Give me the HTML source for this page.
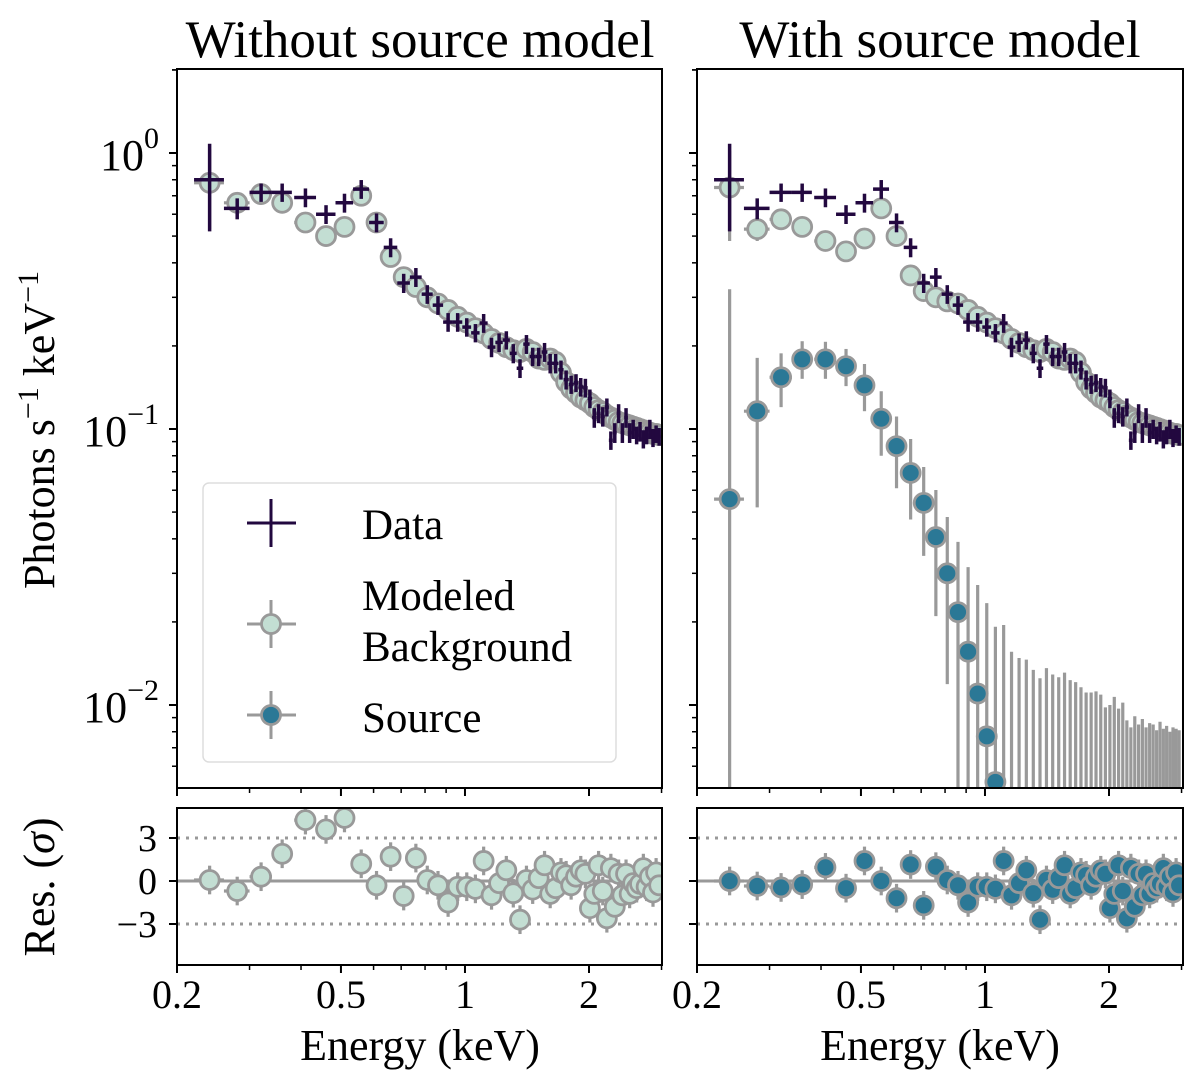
<!DOCTYPE html>
<html><head><meta charset="utf-8"><style>
html,body{margin:0;padding:0;background:#fff;width:1200px;height:1085px;overflow:hidden}
svg{display:block}
text{font-family:"Liberation Serif","DejaVu Serif",serif;fill:#000}
</style></head><body>
<svg id="chart" width="1200" height="1085" viewBox="0 0 1200 1085" xmlns="http://www.w3.org/2000/svg">
<defs>
<clipPath id="clipL"><rect x="177" y="69" width="485" height="719"/></clipPath>
<clipPath id="clipR"><rect x="697" y="69" width="486" height="719"/></clipPath>
<clipPath id="clipRL"><rect x="177" y="808" width="485" height="157"/></clipPath>
<clipPath id="clipRR"><rect x="697" y="808" width="486" height="157"/></clipPath>
</defs>
<text x="420" y="57" font-size="53" text-anchor="middle">Without source model</text>
<text x="940" y="57" font-size="53" text-anchor="middle">With source model</text>
<text transform="translate(54,430) rotate(-90)" font-size="44" text-anchor="middle">Photons s<tspan dy="-16" font-size="30">−1</tspan><tspan dy="16"> keV</tspan><tspan dy="-16" font-size="30">−1</tspan></text>
<text transform="translate(54,887) rotate(-90)" font-size="44" text-anchor="middle">Res. (<tspan font-style="italic">σ</tspan>)</text>
<text x="420" y="1060" font-size="44" text-anchor="middle">Energy (keV)</text>
<text x="940" y="1060" font-size="44" text-anchor="middle">Energy (keV)</text>
<g id="layer"></g>
</svg>
<script>
const energy = [0.24,0.28,0.32,0.36,0.41,0.46,0.51,0.56,0.61,0.66,0.71,0.76,0.81,0.86,0.91,0.96,1.01,1.06,1.11,1.16,1.21,1.26,1.31,1.36,1.41,1.46,1.51,1.56,1.61,1.66,1.71,1.76,1.81,1.86,1.91,1.96,2.01,2.06,2.11,2.16,2.21,2.26,2.31,2.36,2.41,2.46,2.51,2.56,2.61,2.66,2.71,2.76,2.81,2.86,2.91,2.96];
const energyErr = [0.02,0.02,0.02,0.02].concat(Array(52).fill(0.025));
const dataRate = [0.80,0.63,0.72,0.72,0.69,0.60,0.66,0.74,0.56,0.455,0.338,0.355,0.308,0.281,0.244,0.244,0.234,0.223,0.242,0.198,0.206,0.21,0.188,0.166,0.203,0.183,0.183,0.19,0.173,0.173,0.164,0.151,0.145,0.147,0.142,0.141,0.129,0.110,0.114,0.111,0.12,0.091,0.097,0.114,0.097,0.110,0.097,0.100,0.095,0.098,0.092,0.095,0.100,0.093,0.096,0.094];
const dataErr = [0.28,0.055,0.055,0.055,0.054,0.047,0.052,0.058,0.044,0.036,0.027,0.028,0.024,0.022,0.019,0.019,0.018,0.017,0.019,0.016,0.016,0.016,0.015,0.013,0.016,0.014,0.014,0.015,0.014,0.014,0.013,0.012,0.011,0.011,0.011,0.011,0.01,0.009,0.009,0.009,0.009,0.007,0.008,0.009,0.008,0.009,0.008,0.008,0.007,0.008,0.007,0.007,0.008,0.007,0.007,0.007];
const bgLeft = [0.78,0.66,0.71,0.66,0.56,0.50,0.54,0.70,0.56,0.42,0.355,0.327,0.30,0.285,0.27,0.255,0.243,0.232,0.222,0.212,0.205,0.198,0.193,0.19,0.195,0.19,0.18,0.178,0.18,0.175,0.16,0.148,0.14,0.135,0.13,0.127,0.124,0.12,0.117,0.115,0.112,0.11,0.108,0.106,0.105,0.104,0.103,0.102,0.101,0.100,0.099,0.098,0.097,0.096,0.096,0.095];
const bgLeftErr = [0.25,0.03,0.02,0.02,0.02,0.02,0.02,0.02,0.015,0.012,0.01,0.01,0.008,0.008,0.007,0.007,0.006,0.006,0.006,0.006,0.005,0.005,0.005,0.005,0.005,0.005,0.005,0.005,0.005,0.005,0.004,0.004,0.004,0.004,0.004,0.004,0.004,0.004,0.004,0.004,0.003,0.003,0.003,0.003,0.003,0.003,0.003,0.003,0.003,0.003,0.003,0.003,0.003,0.003,0.003,0.003];
const bgRight = [0.75,0.53,0.575,0.54,0.48,0.44,0.49,0.63,0.50,0.36,0.316,0.30,0.29,0.285,0.27,0.255,0.243,0.232,0.222,0.212,0.205,0.198,0.193,0.19,0.195,0.19,0.18,0.178,0.18,0.175,0.16,0.148,0.14,0.135,0.13,0.127,0.124,0.12,0.117,0.115,0.112,0.11,0.108,0.106,0.105,0.104,0.103,0.102,0.101,0.100,0.099,0.098,0.097,0.096,0.096,0.095];
const bgRightErr = [0.27,0.05,0.03,0.03,0.03,0.02,0.02,0.02,0.015,0.012,0.01,0.01,0.008,0.008,0.007,0.007,0.006,0.006,0.006,0.006,0.005,0.005,0.005,0.005,0.005,0.005,0.005,0.005,0.005,0.005,0.004,0.004,0.004,0.004,0.004,0.004,0.004,0.004,0.004,0.004,0.003,0.003,0.003,0.003,0.003,0.003,0.003,0.003,0.003,0.003,0.003,0.003,0.003,0.003,0.003,0.003];
const sourceRate = [0.0557,0.116,0.154,0.179,0.179,0.169,0.144,0.109,0.0867,0.0693,0.054,0.0406,0.030,0.0217,0.0156,0.011,0.0077,0.00526,0.003,0.003,0.002,0.002,0.002,0.002,0.002,0.002,0.002,0.002,0.002,0.002,0.002,0.002,0.002,0.002,0.002,0.002,0.002,0.002,0.002,0.002,0.002,0.002,0.002,0.002,0.002,0.002,0.002,0.002,0.002,0.002,0.002,0.002,0.002,0.002,0.002,0.002];
const sourceUpper = [0.321,0.181,0.188,0.208,0.207,0.195,0.172,0.137,0.111,0.092,0.0728,0.0601,0.048,0.039,0.0316,0.0272,0.0234,0.0192,0.0195,0.0156,0.0148,0.0146,0.0134,0.0125,0.0136,0.0129,0.0126,0.0131,0.0123,0.0121,0.0116,0.0111,0.0111,0.0112,0.0109,0.0098,0.0100,0.0107,0.0097,0.0102,0.0088,0.0083,0.0091,0.0085,0.0089,0.0083,0.0086,0.0085,0.0081,0.0087,0.0082,0.0084,0.0080,0.0083,0.0082,0.0081];
const sourceLower = [0.0001,0.052,0.120,0.152,0.152,0.143,0.116,0.080,0.061,0.047,0.0347,0.021,0.0119,0.0001,0.0001,0.0001,0.0001,0.0001,0.0001,0.0001,0.0001,0.0001,0.0001,0.0001,0.0001,0.0001,0.0001,0.0001,0.0001,0.0001,0.0001,0.0001,0.0001,0.0001,0.0001,0.0001,0.0001,0.0001,0.0001,0.0001,0.0001,0.0001,0.0001,0.0001,0.0001,0.0001,0.0001,0.0001,0.0001,0.0001,0.0001,0.0001,0.0001,0.0001,0.0001,0.0001];
const residLeft = [0.07,-0.7,0.3,1.9,4.25,3.6,4.4,1.2,-0.3,1.7,-1.05,1.6,0.07,-0.3,-1.5,-0.4,-0.4,-0.55,1.4,-1.0,-0.15,0.75,-0.85,-2.7,0.07,-0.6,0.2,1.1,-0.9,-0.5,0.6,0.4,-0.3,0.3,0.75,0.5,-1.9,-0.9,1.1,-0.7,-2.6,0.9,-1.8,0.5,-1.0,0.5,-0.9,-0.15,-0.5,-0.2,0.9,-0.4,0.3,-0.8,0.6,-0.3];
const residRight = [0.0,-0.35,-0.45,-0.25,0.95,-0.5,1.4,0.0,-1.2,1.15,-1.7,1.0,0.07,-0.3,-1.5,-0.4,-0.4,-0.55,1.4,-1.0,-0.15,0.75,-0.85,-2.7,0.07,-0.6,0.2,1.1,-0.9,-0.5,0.6,0.4,-0.3,0.3,0.75,0.5,-1.9,-0.9,1.1,-0.7,-2.6,0.9,-1.8,0.5,-1.0,0.5,-0.9,-0.15,-0.5,-0.2,0.9,-0.4,0.3,-0.8,0.6,-0.3];
const residErr = 1;
const xTickVals = [0.2,0.5,1,2];
const xTickLabels = ["0.2","0.5","1","2"];
const xMinorVals = [0.3,0.4,0.6,0.7,0.8,0.9,3];
const yDecades = [0,-1,-2];
const yDecadeLabels = ["0","−1","−2"];
const resTickVals = [3,0,-3];
const resTickLabels = ["3","0","−3"];

const NS = "http://www.w3.org/2000/svg";
const layer = document.getElementById("layer");
const PX_DEC_X = 412, PX_DEC_Y = 276, Y1 = 153, RES0 = 881, RES_U = 14.33;
function xs(e, x0){ return x0 + PX_DEC_X*Math.log10(e/0.2); }
function ys(v){ return Y1 - PX_DEC_Y*Math.log10(v); }
function yr(r){ return RES0 - RES_U*r; }
function mk(tag, attrs, parent){
  const el = document.createElementNS(NS, tag);
  for (const k in attrs) el.setAttribute(k, attrs[k]);
  (parent||layer).appendChild(el);
  return el;
}
function line(x1,y1,x2,y2,stroke,w,parent){ return mk("line",{x1:x1,y1:y1,x2:x2,y2:y2,stroke:stroke,"stroke-width":w},parent); }

const DATA_C = "#22083f", GREY = "#999999", BG_FILL = "#c3ded3", SRC_FILL = "#2b7896";
const EW = 3.2;

function panel(x0, w, clipMain, clipRes, name){
  const gM = mk("g",{"clip-path":"url(#"+clipMain+")"});
  
  
  const gR = mk("g",{"clip-path":"url(#"+clipRes+")"});
  
  
  const l0 = line(x0, yr(0), x0+w, yr(0), GREY, 3, gR);
  
  
  [3,-3].forEach(function(v){
    const l = line(x0, yr(v), x0+w, yr(v), GREY, 3, gR);
    l.setAttribute("stroke-dasharray","3,6");
    
    
  });
  return {gM:gM, gR:gR};
}

function circle(cx, cy, fill, parent, nm){
  const c = mk("circle",{cx:cx,cy:cy,r:9.5,fill:fill,stroke:GREY,"stroke-width":2.8},parent);
  
  
  return c;
}

function drawBg(g, x0, vals, errs, name){
  for (let i=0;i<energy.length;i++){
    const cx = xs(energy[i],x0), cy = ys(vals[i]);
    line(xs(energy[i]-energyErr[i],x0), cy, xs(energy[i]+energyErr[i],x0), cy, GREY, EW, g);
    line(cx, ys(vals[i]+errs[i]), cx, ys(Math.max(vals[i]-errs[i],1e-5)), GREY, EW, g);
  }
  for (let i=0;i<energy.length;i++){
    circle(xs(energy[i],x0), ys(vals[i]), BG_FILL, g, name+'-background-point');
  }
}
function drawData(g, x0){
  for (let i=0;i<energy.length;i++){
    const cx = xs(energy[i],x0), cy = ys(dataRate[i]);
    const grp = mk("g",{},g);
    
    
    line(xs(energy[i]-energyErr[i],x0), cy, xs(energy[i]+energyErr[i],x0), cy, DATA_C, 3.5, grp);
    line(cx, ys(dataRate[i]+dataErr[i]), cx, ys(dataRate[i]-dataErr[i]), DATA_C, 3.5, grp);
  }
}
function drawResid(g, x0, vals, fill, name){
  for (let i=0;i<energy.length;i++){
    const cx = xs(energy[i],x0), cy = yr(vals[i]);
    line(xs(energy[i]-energyErr[i],x0), cy, xs(energy[i]+energyErr[i],x0), cy, GREY, EW, g);
    line(cx, yr(vals[i]+residErr), cx, yr(vals[i]-residErr), GREY, EW, g);
  }
  for (let i=0;i<energy.length;i++) circle(xs(energy[i],x0), yr(vals[i]), fill, g, name+'-residual-point');
}

function axes(x0, w, name, showY){
  const frame = mk("rect",{x:x0,y:69,width:w,height:719,fill:"none",stroke:"#000","stroke-width":2});
  
  
  const rframe = mk("rect",{x:x0,y:808,width:w,height:157,fill:"none",stroke:"#000","stroke-width":2});
  
  
  yDecades.forEach(function(d,i){
    const y = ys(Math.pow(10,d));
    line(x0-8, y, x0, y, "#000", 2);
    if (showY){
      const t = mk("text",{x:x0-18,y:y+17,"font-size":44,"text-anchor":"end"});
      
      
      t.innerHTML = '10<tspan dy="-22" font-size="30">'+yDecadeLabels[i]+'</tspan>';
    }
    for (let m=2;m<10;m++){
      const ym = ys(m*Math.pow(10,d));
      if (ym>69 && ym<788) line(x0-5, ym, x0, ym, "#000", 1.5);
    }
  });
  for (let m=5;m<10;m++){ const ym = ys(m*0.001); if (ym<788) line(x0-5, ym, x0, ym, "#000", 1.5); }
  { const ym = ys(2); if (ym>69) line(x0-5, ym, x0, ym, "#000", 1.5); }
  resTickVals.forEach(function(v,i){
    line(x0-8, yr(v), x0, yr(v), "#000", 2);
    if (showY){
      const t = mk("text",{x:x0-20,y:yr(v)+13,"font-size":38,"text-anchor":"end"});
      
      
      t.textContent = resTickLabels[i];
    }
  });
  xTickVals.forEach(function(v,i){
    const x = xs(v,x0);
    line(x, 788, x, 796, "#000", 2);
    line(x, 965, x, 973, "#000", 2);
    const t = mk("text",{x:x,y:1008,"font-size":40,"text-anchor":"middle"});
    
    
    t.textContent = xTickLabels[i];
  });
  xMinorVals.forEach(function(v){
    const x = xs(v,x0);
    if (x<=x0+w+0.5){ line(x, 788, x, 793, "#000", 1.5); line(x, 965, x, 970, "#000", 1.5); }
  });
}

const L = panel(177, 485, "clipL", "clipRL", "left");
drawBg(L.gM, 177, bgLeft, bgLeftErr, "left");
drawData(L.gM, 177);
drawResid(L.gR, 177, residLeft, BG_FILL, "left");
axes(177, 485, "left", true);

const R = panel(697, 486, "clipR", "clipRR", "right");
for (let i=0;i<energy.length;i++){
  const cx = xs(energy[i],697), cy = ys(sourceRate[i]);
  line(cx, ys(sourceUpper[i]), cx, ys(sourceLower[i]), GREY, EW, R.gM);
  line(xs(energy[i]-energyErr[i],697), cy, xs(energy[i]+energyErr[i],697), cy, GREY, EW, R.gM);
}
for (let i=0;i<energy.length;i++) circle(xs(energy[i],697), ys(sourceRate[i]), SRC_FILL, R.gM, 'source-point');
drawBg(R.gM, 697, bgRight, bgRightErr, "right");
drawData(R.gM, 697);
drawResid(R.gR, 697, residRight, SRC_FILL, "right");
axes(697, 486, "right", false);

const lg = mk("g",{});


mk("rect",{x:203,y:483,width:413,height:279,rx:6,fill:"#fff","fill-opacity":0.8,stroke:"#dddddd","stroke-width":1.5},lg);
const e1 = mk("g",{},lg);


line(247,523,296,523,DATA_C,3,e1); line(271,499,271,547,DATA_C,3,e1);
const t1 = mk("text",{x:362,y:539,"font-size":43},e1); t1.textContent="Data";
const e2 = mk("g",{},lg);


line(247,624,296,624,GREY,3,e2); line(271,600,271,648,GREY,3,e2);
circle(271,624,BG_FILL,e2,'legend-background-marker');
const t2 = mk("text",{x:362,y:610,"font-size":43},e2); t2.textContent="Modeled";
const t3 = mk("text",{x:362,y:661,"font-size":43},e2); t3.textContent="Background";
const e3 = mk("g",{},lg);


line(247,715,296,715,GREY,3,e3); line(271,691,271,739,GREY,3,e3);
circle(271,715,SRC_FILL,e3,'legend-source-marker');
const t4 = mk("text",{x:362,y:732,"font-size":43},e3); t4.textContent="Source";
</script>
</body></html>
